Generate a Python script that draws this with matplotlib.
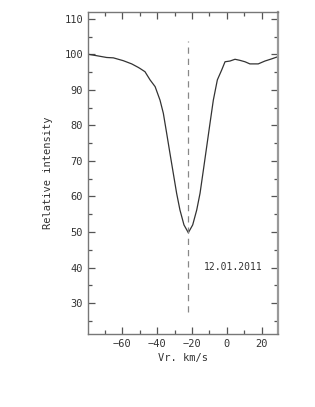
import matplotlib
matplotlib.use("Agg")
import matplotlib.pyplot as plt
from matplotlib.ticker import MultipleLocator

# Profile
velocity = [-79.3, -74.5, -68.8, -65.0, -59.3, -54.5, -50.7, -49.7, -46.9, -44.0,
            -41.1, -38.3, -36.4, -34.5, -32.6, -30.7, -28.8, -26.9, -24.6, -22.1,
            -19.6, -17.3, -15.4, -13.5, -11.6, -9.7, -7.8, -5.5, -3.0, -1.1,
            1.7, 4.6, 7.4, 10.3, 13.1, 17.9, 21.7, 25.5, 29.0]
intensity = [100.0, 99.6, 99.1, 99.0, 98.2, 97.3, 96.3, 96.0, 95.1, 92.8,
             90.9, 87.1, 83.4, 77.8, 72.1, 66.5, 60.9, 56.2, 52.0, 49.8,
             52.0, 56.2, 60.9, 67.4, 74.0, 80.6, 87.1, 92.8, 95.6, 97.9,
             98.1, 98.6, 98.3, 97.9, 97.3, 97.3, 98.1, 98.7, 99.3]

line_x = -22.3
line_y = [27.4, 103.7]
date_label = "12.01.2011"

plt.rcParams["font.family"] = ["DejaVu Sans Mono"]
text_color = "#333333"

fig = plt.figure(figsize=(3.15, 4.07), dpi=100)
ax = fig.add_axes([88 / 315, 1 - 334 / 407, 190 / 315, 322 / 407])

ax.plot(velocity, intensity, color="#333333", linewidth=0.9)
ax.plot([line_x, line_x], line_y, color="#888888", linewidth=0.9,
        linestyle=(0, (5, 4)))

ax.set_xlim(-79.5, 29.2)
ax.set_ylim(21.3, 111.9)

ax.xaxis.set_major_locator(MultipleLocator(20))
ax.xaxis.set_minor_locator(MultipleLocator(10))
ax.yaxis.set_major_locator(MultipleLocator(10))
ax.yaxis.set_minor_locator(MultipleLocator(5))
ax.set_yticks([30, 40, 50, 60, 70, 80, 90, 100, 110])

ax.tick_params(which="both", direction="in", top=True, right=True,
               colors="#555555", labelcolor=text_color, labelsize=7.5)
ax.tick_params(which="major", length=5, width=0.9)
ax.tick_params(which="minor", length=3, width=0.9)

for side in ax.spines.values():
    side.set_color("#777777")
    side.set_linewidth(1.0)
ax.spines["right"].set_linewidth(1.6)
ax.spines["right"].set_color("#999999")

ax.set_xlabel("Vr. km/s", fontsize=7.5, color=text_color, labelpad=3)
ax.set_ylabel("Relative intensity", fontsize=7.5, color=text_color, labelpad=8)

ax.text(20.5, 40.1, date_label, fontsize=7, color=text_color,
        ha="right", va="center")

fig.savefig("out.png", dpi=100)
